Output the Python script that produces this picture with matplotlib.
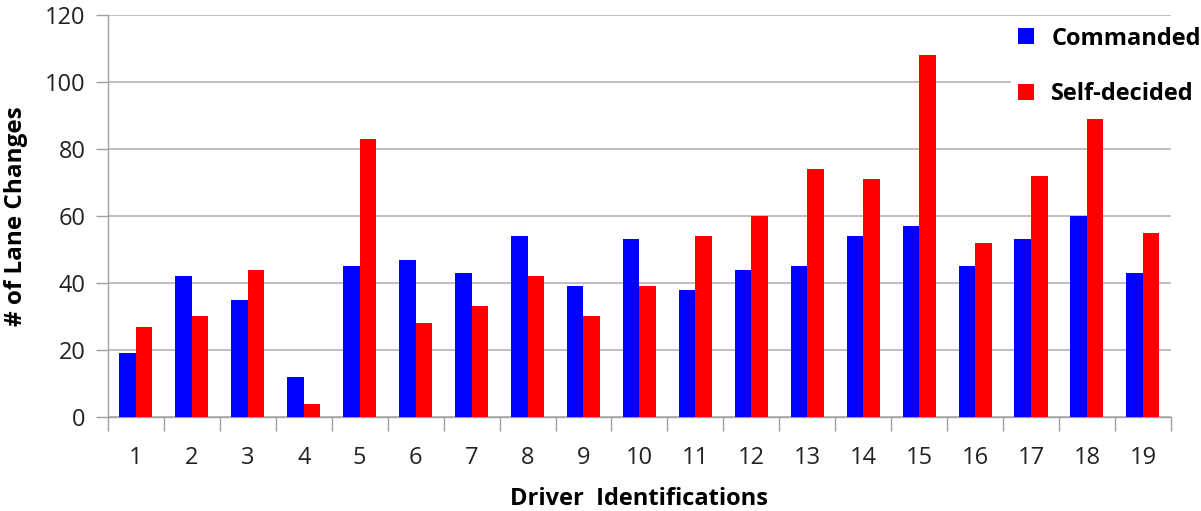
import numpy as np
import matplotlib
matplotlib.use("Agg")
import matplotlib.pyplot as plt
from matplotlib.ticker import MultipleLocator, FixedLocator

plt.rcParams['font.family'] = ['Open Sans', 'DejaVu Sans']

drivers = [str(i) for i in range(1, 20)]
commanded = [19, 42, 35, 12, 45, 47, 43, 54, 39, 53, 38, 44, 45, 54, 57, 45, 53, 60, 43]
self_decided = [27, 30, 44, 4, 83, 28, 33, 42, 30, 39, 54, 60, 74, 71, 108, 52, 72, 89, 55]

x = np.arange(len(drivers))
w = 0.295

fig = plt.figure(figsize=(12.01, 5.11), dpi=100)
ax = fig.add_axes([0.0899, 0.184, 0.885, 0.7866])

ax.bar(x - w / 2, commanded, width=w, color='#0000ff', label='Commanded', zorder=3)
ax.bar(x + w / 2, self_decided, width=w, color='#ff0000', label='Self-decided', zorder=3)

ax.set_xlim(-0.5, len(drivers) - 0.5)
ax.set_ylim(0, 120)
ax.yaxis.set_major_locator(MultipleLocator(20))
ax.grid(axis='y', color='#b4b4b4', linewidth=1.2, zorder=0)

ax.set_xticks(x)
ax.set_xticklabels(drivers)
ax.xaxis.set_minor_locator(FixedLocator(np.arange(-0.5, len(drivers), 1.0)))
ax.tick_params(axis='x', which='major', length=0, pad=21, labelsize=17, colors='#222222')
ax.tick_params(axis='x', which='minor', length=10, width=1, color='#a0a0a0')
ax.tick_params(axis='y', length=9, width=1, color='#a0a0a0', labelsize=17, labelcolor='#222222', pad=7)

for s in ['top', 'right']:
    ax.spines[s].set_visible(False)
for s in ['left', 'bottom']:
    ax.spines[s].set_color('#a0a0a0')
    ax.spines[s].set_linewidth(1)

ax.set_ylabel('# of Lane Changes', fontsize=17.5, fontweight='bold', labelpad=12)
ax.set_xlabel('Driver  Identifications', fontsize=17, fontweight='bold', labelpad=12)

leg = fig.legend(loc='upper left', bbox_to_anchor=(0.842, 0.962), frameon=True,
                 fontsize=17, handlelength=0.68, handleheight=0.68, labelspacing=1.35,
                 handletextpad=0.72, borderpad=0.3, borderaxespad=0)
leg.get_frame().set_edgecolor('white')
leg.get_frame().set_facecolor('white')
leg.get_frame().set_alpha(1)
for t in leg.get_texts():
    t.set_fontweight('bold')

fig.savefig('out.png', dpi=100)
